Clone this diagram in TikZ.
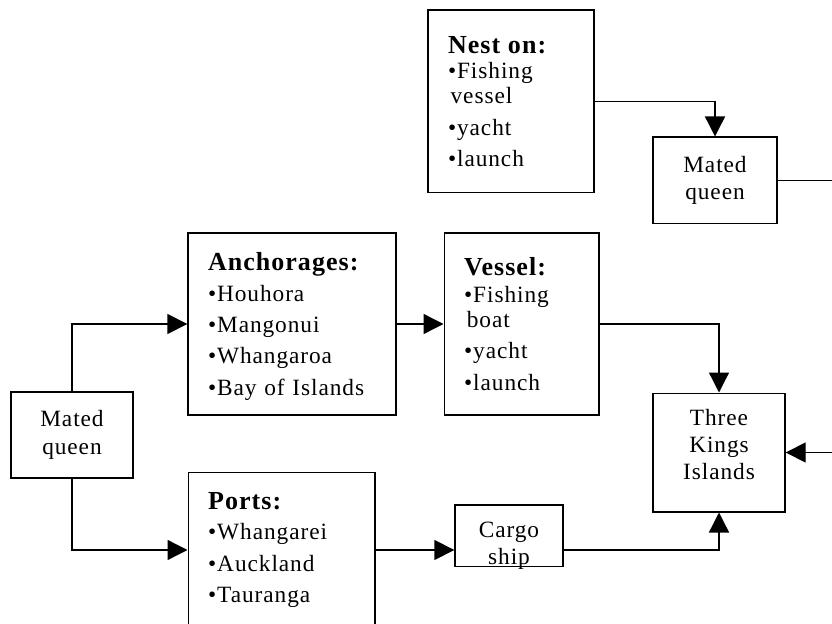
\documentclass[tikz,border=0pt]{standalone}
\usepackage{fontspec}
\setmainfont{Liberation Serif}[LetterSpace=4.0]
\usepackage{tikz}
\usetikzlibrary{
  arrows.meta,
  positioning
}

\newcommand{\boxhead}[1]{{\fontsize{19.5}{19}\selectfont\bfseries #1}}

\tikzset{
  box/.style={draw, line width=1pt, inner sep=0pt, align=center,
    font=\fontsize{17.5}{20.5}\selectfont},
  listbox/.style={draw, line width=1pt, inner xsep=15pt, inner ysep=0pt,
    align=left, font=\fontsize{17.5}{19}\selectfont},
  arr/.style={line width=1pt, -{Triangle[length=15pt, width=15pt]}}
}

\begin{document}
\begin{tikzpicture}[x=0.75pt, y=-0.75pt]

% Frame of the picture (boxes run off the edges)
\useasboundingbox (0,0) rectangle (832,624);
\clip (0,0) rectangle (832,624);

% Boxes
\node[listbox, text width=94.5pt, minimum height=137pt] (nest) at (511,101.5)
  {\boxhead{Nest on:}\\
   \textbullet Fishing\\
   \hspace*{2pt}vessel\\[4.5pt]
   \textbullet yacht\\[4.5pt]
   \textbullet launch};

\node[box, minimum width=93pt, minimum height=65pt] (matedtop) at (715,180.5)
  {Mated\\queen};

\node[listbox, text width=126pt, minimum height=136.5pt, text height=17pt] (anch) at (292,324)
  {\boxhead{Anchorages:}\\[4pt]
   \textbullet Houhora\\[4.5pt]
   \textbullet Mangonui\\[4.5pt]
   \textbullet Whangaroa\\[4.5pt]
   \textbullet Bay of Islands};

\node[listbox, text width=86pt, minimum height=136.5pt] (vessel) at (521.5,324)
  {\boxhead{Vessel:}\\[1pt]
   \textbullet Fishing\\
   \hspace*{2pt}boat\\[4.5pt]
   \textbullet yacht\\[4.5pt]
   \textbullet launch};

\node[box, minimum width=91.5pt, minimum height=64.5pt] (matedleft) at (72,435)
  {Mated\\queen};

\node[box, minimum width=99pt, minimum height=89pt, text depth=12pt] (kings) at (719,452.5)
  {Three\\Kings\\Islands};

\node[listbox, text width=110pt, minimum height=116pt] (ports) at (281.5,550)
  {\boxhead{Ports:}\\[4pt]
   \textbullet Whangarei\\[4.5pt]
   \textbullet Auckland\\[4.5pt]
   \textbullet Tauranga};

\node[box, minimum width=81pt, minimum height=46pt, text height=44pt, text depth=0pt] (cargo) at (509,535.5)
  {Cargo\\ship};

% Loose ends at the picture edge
\coordinate (outtop) at (832,180.5);
\coordinate (inright) at (832,452.5);

% Connectors
\draw[arr] (nest.east) -| (matedtop.north);
\draw[line width=1pt] (matedtop.east) -- (outtop);
\draw[arr] (matedleft.north) |- (anch.west);
\draw[arr] (matedleft.south) |- (ports.west);
\draw[arr] (anch.east) -- (vessel.west);
\draw[arr] (vessel.east) -| (kings.north);
\draw[arr] (ports.east) -- (ports.east -| cargo.west);
\draw[arr] (cargo.east |- ports.east) -| (kings.south);
\draw[arr] (inright) -- (kings.east);

\end{tikzpicture}
\end{document}
